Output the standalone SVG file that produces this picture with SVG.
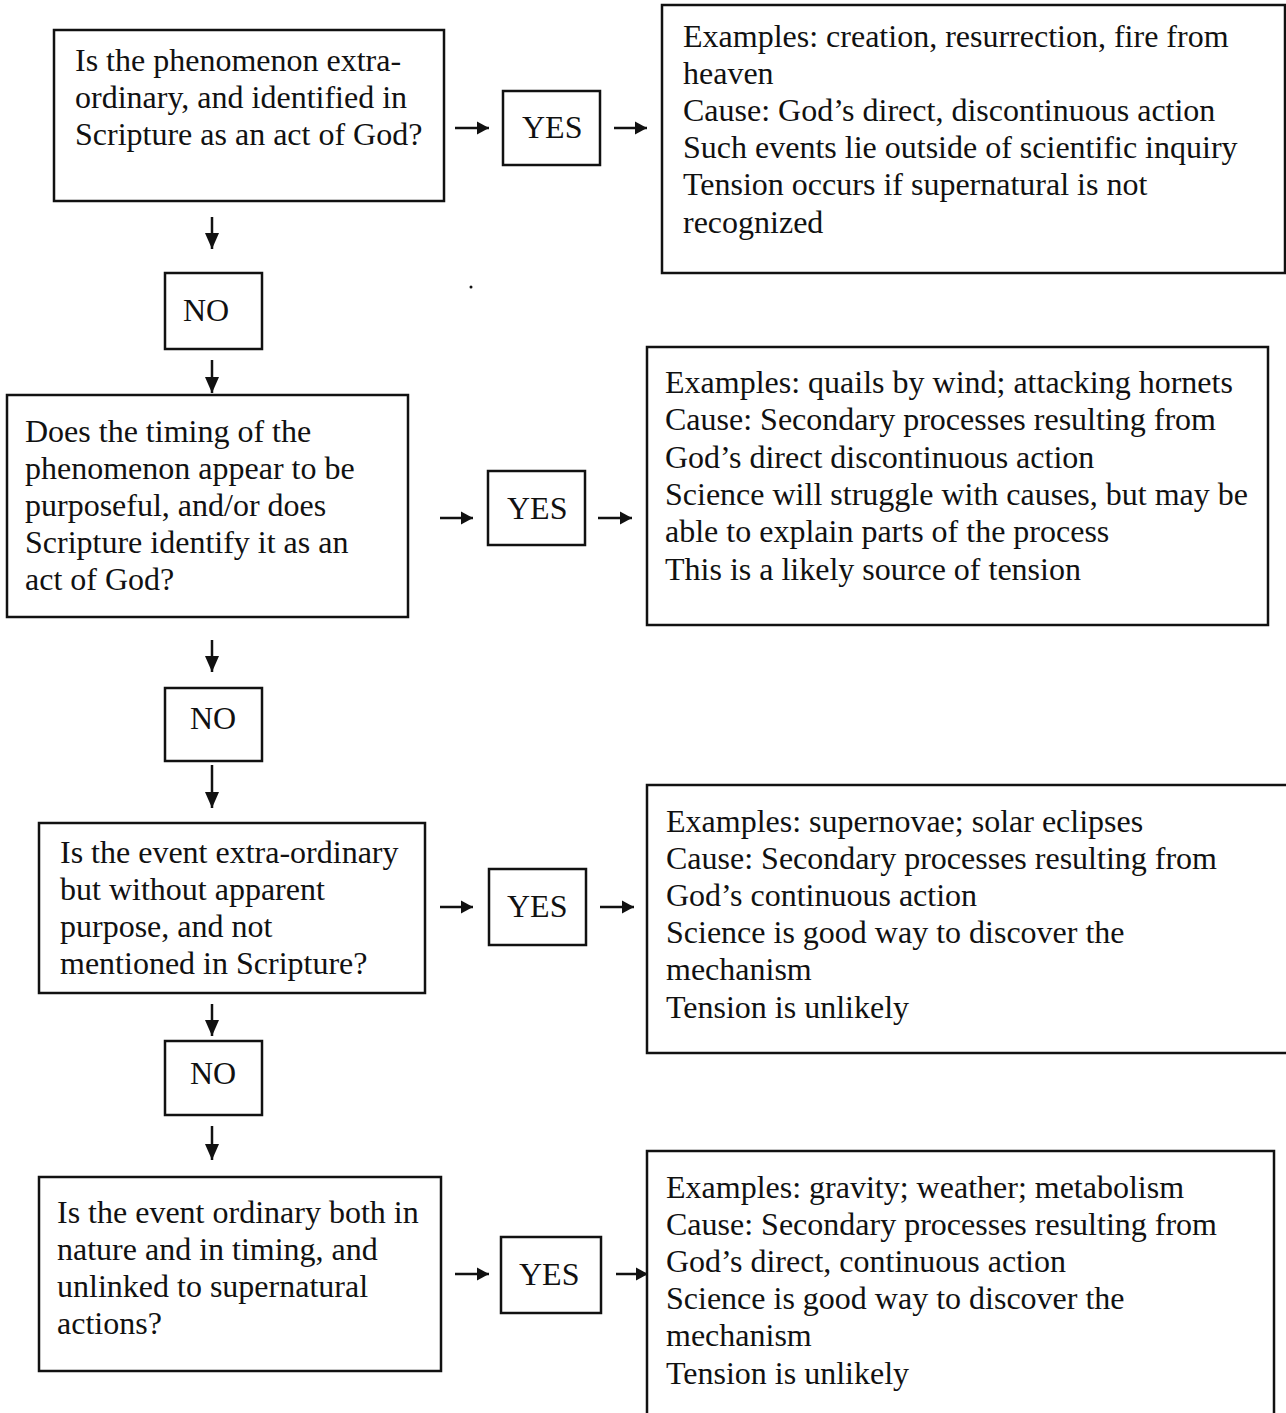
<svg xmlns="http://www.w3.org/2000/svg" width="1286" height="1413" viewBox="0 0 1286 1413">
<style>
.box{fill:none;stroke:#111;stroke-width:2.5}
.t{font-family:"Liberation Serif","Times New Roman",serif;font-size:32px;fill:#111}
.c{stroke:#111;stroke-width:2.5;fill:none}
</style>
<defs>
<marker id="ah" markerUnits="userSpaceOnUse" markerWidth="14" markerHeight="14" refX="12" refY="7" orient="auto">
<path d="M0,0.5 L12,7 L0,13.5 Z" fill="#111"/>
</marker>
<marker id="av" markerUnits="userSpaceOnUse" markerWidth="17" markerHeight="16" refX="16" refY="8" orient="auto">
<path d="M0,1 L16,8 L0,15 Z" fill="#111"/>
</marker>
</defs>
<rect width="1286" height="1413" fill="#fff"/>

<g id="q1">
<rect class="box" x="54" y="30" width="390" height="171"/>
<text class="t" x="75" y="71">Is the phenomenon extra-</text>
<text class="t" x="75" y="108">ordinary, and identified in</text>
<text class="t" x="75" y="145">Scripture as an act of God?</text>
</g>
<g id="yes1">
<rect class="box" x="503" y="91" width="97" height="74"/>
<text class="t" x="522" y="138">YES</text>
</g>
<g id="r1">
<rect class="box" x="662" y="5" width="623" height="268"/>
<text class="t" x="683" y="47">Examples: creation, resurrection, fire from</text>
<text class="t" x="683" y="84">heaven</text>
<text class="t" x="683" y="121">Cause: God’s direct, discontinuous action</text>
<text class="t" x="683" y="158">Such events lie outside of scientific inquiry</text>
<text class="t" x="683" y="195">Tension occurs if supernatural is not</text>
<text class="t" x="683" y="233">recognized</text>
</g>
<g id="no1">
<rect class="box" x="165" y="273" width="97" height="76"/>
<text class="t" x="183" y="321">NO</text>
</g>

<g id="q2">
<rect class="box" x="7" y="395" width="401" height="222"/>
<text class="t" x="25" y="442">Does the timing of the</text>
<text class="t" x="25" y="479">phenomenon appear to be</text>
<text class="t" x="25" y="516">purposeful, and/or does</text>
<text class="t" x="25" y="553">Scripture identify it as an</text>
<text class="t" x="25" y="590">act of God?</text>
</g>
<g id="yes2">
<rect class="box" x="488" y="471" width="97" height="74"/>
<text class="t" x="507" y="519">YES</text>
</g>
<g id="r2">
<rect class="box" x="647" y="347" width="621" height="278"/>
<text class="t" x="665" y="393">Examples: quails by wind; attacking hornets</text>
<text class="t" x="665" y="430">Cause: Secondary processes resulting from</text>
<text class="t" x="665" y="468">God’s direct discontinuous action</text>
<text class="t" x="665" y="505">Science will struggle with causes, but may be</text>
<text class="t" x="665" y="542">able to explain parts of the process</text>
<text class="t" x="665" y="580">This is a likely source of tension</text>
</g>
<g id="no2">
<rect class="box" x="165" y="688" width="97" height="73"/>
<text class="t" x="190" y="729">NO</text>
</g>

<g id="q3">
<rect class="box" x="39" y="823" width="386" height="170"/>
<text class="t" x="60" y="863">Is the event extra-ordinary</text>
<text class="t" x="60" y="900">but without apparent</text>
<text class="t" x="60" y="937">purpose, and not</text>
<text class="t" x="60" y="974">mentioned in Scripture?</text>
</g>
<g id="yes3">
<rect class="box" x="489" y="869" width="97" height="76"/>
<text class="t" x="507" y="917">YES</text>
</g>
<g id="r3">
<rect class="box" x="647" y="785" width="645" height="268"/>
<text class="t" x="666" y="832">Examples: supernovae; solar eclipses</text>
<text class="t" x="666" y="869">Cause: Secondary processes resulting from</text>
<text class="t" x="666" y="906">God’s continuous action</text>
<text class="t" x="666" y="943">Science is good way to discover the</text>
<text class="t" x="666" y="980">mechanism</text>
<text class="t" x="666" y="1018">Tension is unlikely</text>
</g>
<g id="no3">
<rect class="box" x="165" y="1041" width="97" height="74"/>
<text class="t" x="190" y="1084">NO</text>
</g>

<g id="q4">
<rect class="box" x="39" y="1177" width="402" height="194"/>
<text class="t" x="57" y="1223">Is the event ordinary both in</text>
<text class="t" x="57" y="1260">nature and in timing, and</text>
<text class="t" x="57" y="1297">unlinked to supernatural</text>
<text class="t" x="57" y="1334">actions?</text>
</g>
<g id="yes4">
<rect class="box" x="501" y="1237" width="100" height="76"/>
<text class="t" x="519" y="1285">YES</text>
</g>
<g id="r4">
<rect class="box" x="647" y="1151" width="627" height="280"/>
<text class="t" x="666" y="1198">Examples: gravity; weather; metabolism</text>
<text class="t" x="666" y="1235">Cause: Secondary processes resulting from</text>
<text class="t" x="666" y="1272">God’s direct, continuous action</text>
<text class="t" x="666" y="1309">Science is good way to discover the</text>
<text class="t" x="666" y="1346">mechanism</text>
<text class="t" x="666" y="1384">Tension is unlikely</text>
</g>

<g id="connectors">
<line class="c" x1="455" y1="128" x2="489" y2="128" marker-end="url(#ah)"/>
<line class="c" x1="614" y1="128" x2="647" y2="128" marker-end="url(#ah)"/>
<line class="c" x1="440" y1="518" x2="473" y2="518" marker-end="url(#ah)"/>
<line class="c" x1="598" y1="518" x2="632" y2="518" marker-end="url(#ah)"/>
<line class="c" x1="440" y1="907" x2="473" y2="907" marker-end="url(#ah)"/>
<line class="c" x1="600" y1="907" x2="634" y2="907" marker-end="url(#ah)"/>
<line class="c" x1="455" y1="1274" x2="489" y2="1274" marker-end="url(#ah)"/>
<line class="c" x1="616" y1="1274" x2="648" y2="1274" marker-end="url(#ah)"/>
<line class="c" x1="212" y1="217" x2="212" y2="249" marker-end="url(#av)"/>
<line class="c" x1="212" y1="360" x2="212" y2="393" marker-end="url(#av)"/>
<line class="c" x1="212" y1="640" x2="212" y2="672" marker-end="url(#av)"/>
<line class="c" x1="212" y1="765" x2="212" y2="808" marker-end="url(#av)"/>
<line class="c" x1="212" y1="1004" x2="212" y2="1036" marker-end="url(#av)"/>
<line class="c" x1="212" y1="1126" x2="212" y2="1160" marker-end="url(#av)"/>
</g>
<circle cx="471" cy="287" r="1.5" fill="#111"/>
</svg>
